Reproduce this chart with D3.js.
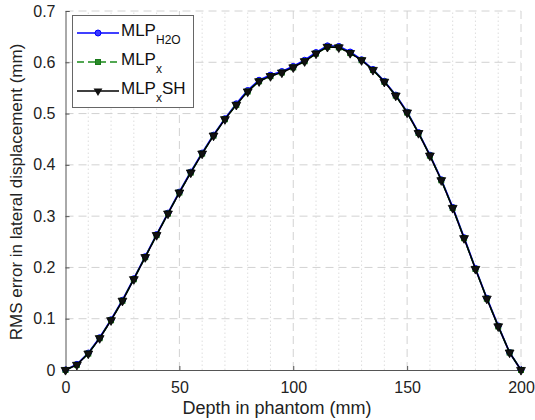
<!DOCTYPE html>
<html><head><meta charset="utf-8">
<script src="https://cdn.jsdelivr.net/npm/d3@7"></script>
<style>body{margin:0;background:#fff}svg{display:block}text{font-family:"Liberation Sans",Arial,sans-serif}</style>
</head><body><svg id="c" width="535" height="420"></svg>
<script>
const depth = [0,5,10,15,20,25,30,35,40,45,50,55,60,65,70,75,80,85,90,95,100,105,110,115,120,125,130,135,140,145,150,155,160,165,170,175,180,185,190,195,200];
const mlpH2O = [0,0.011,0.033,0.063,0.098,0.136,0.178,0.221,0.264,0.306,0.347,0.386,0.423,0.458,0.490,0.519,0.545,0.565,0.575,0.582,0.592,0.604,0.619,0.632,0.631,0.620,0.605,0.586,0.563,0.536,0.503,0.463,0.419,0.371,0.317,0.258,0.198,0.140,0.086,0.034,0];
const mlpX = [0,0.010,0.032,0.062,0.097,0.135,0.177,0.220,0.263,0.305,0.346,0.385,0.422,0.457,0.489,0.517,0.543,0.563,0.573,0.580,0.590,0.602,0.617,0.630,0.629,0.618,0.604,0.585,0.562,0.535,0.502,0.462,0.418,0.370,0.316,0.257,0.197,0.139,0.085,0.034,0];
const mlpXSH = [0,0.010,0.032,0.062,0.097,0.135,0.177,0.220,0.263,0.305,0.346,0.385,0.422,0.457,0.489,0.517,0.543,0.563,0.573,0.580,0.590,0.602,0.617,0.630,0.629,0.618,0.604,0.585,0.562,0.535,0.502,0.462,0.418,0.370,0.316,0.257,0.197,0.139,0.085,0.034,0];
const xTicks = [0,50,100,150,200];
const yTicks = [0,0.1,0.2,0.3,0.4,0.5,0.6,0.7];
const xMinor = [10,20,30,40,60,70,80,90,110,120,130,140,160,170,180,190];

const svg = d3.select("#c");
const x = d3.scaleLinear().domain([0,200]).range([65.5,521]);
const y = d3.scaleLinear().domain([0,0.7]).range([370,11]);

const g = svg.append("g");
g.selectAll(".mx").data(xMinor).enter().append("line")
 .attr("x1",d=>x(d)).attr("x2",d=>x(d)).attr("y1",y(0)).attr("y2",y(0.7))
 .attr("stroke","#d6d6d6").attr("stroke-width",0.8).attr("stroke-dasharray","1.5,2.5");
g.selectAll(".gx").data(xTicks.slice(1)).enter().append("line")
 .attr("x1",d=>x(d)).attr("x2",d=>x(d)).attr("y1",y(0)).attr("y2",y(0.7))
 .attr("stroke","#d2d2d2").attr("stroke-width",1).attr("stroke-dasharray","8,5");
g.selectAll(".gy").data(yTicks.slice(1)).enter().append("line")
 .attr("y1",d=>y(d)).attr("y2",d=>y(d)).attr("x1",x(0)).attr("x2",x(200))
 .attr("stroke","#d2d2d2").attr("stroke-width",1).attr("stroke-dasharray","8,5");

const xAxis = d3.axisBottom(x).tickValues(xTicks).tickSize(-4).tickPadding(8).tickFormat(d3.format("d"));
const yAxis = d3.axisLeft(y).tickValues(yTicks).tickSize(-4).tickPadding(10).tickFormat(d=>d===0?"0":d3.format(".1f")(d));
const ax = svg.append("g").attr("transform",`translate(0,${y(0)})`).call(xAxis);
const ay = svg.append("g").attr("transform",`translate(${x(0)},0)`).call(yAxis);
[ax,ay].forEach(a=>{
  a.select(".domain").attr("stroke","#555").attr("stroke-width",1);
  a.selectAll(".tick line").attr("stroke","#555");
  a.selectAll("text").attr("font-size",16).attr("fill","#222").attr("font-family","Liberation Sans, Arial, sans-serif");
});
ax.selectAll("text").attr("y",23).attr("dy",0);

svg.append("text").attr("x",277).attr("y",414).attr("text-anchor","middle").attr("font-size",18).attr("fill","#222").text("Depth in phantom (mm)");
svg.append("text").attr("transform","translate(22,192) rotate(-90)").attr("text-anchor","middle").attr("font-size",17).attr("fill","#222").text("RMS error in lateral displacement (mm)");

const line = d3.line().x((d,i)=>x(depth[i])).y(d=>y(d));
const tri = d3.symbol().type(d3.symbolTriangle).size(34);

svg.append("path").datum(mlpH2O).attr("d",line).attr("fill","none").attr("stroke","#0000ff").attr("stroke-width",1.8);
svg.selectAll(".c1").data(mlpH2O).enter().append("circle")
 .attr("cx",(d,i)=>x(depth[i])).attr("cy",d=>y(d)).attr("r",3).attr("fill","#3a3aff").attr("stroke","#0000ff").attr("stroke-width",1);
svg.append("path").datum(mlpX).attr("d",line).attr("fill","none").attr("stroke","#1a8a1a").attr("stroke-width",1.5).attr("stroke-dasharray","7,4");
svg.selectAll(".s2").data(mlpX).enter().append("rect")
 .attr("x",(d,i)=>x(depth[i])-2.5).attr("y",d=>y(d)-2.5).attr("width",5).attr("height",5).attr("fill","#2a8a2a").attr("stroke","#1a7a1a");
svg.append("path").datum(mlpXSH).attr("d",line).attr("fill","none").attr("stroke","#000").attr("stroke-width",1.5);
svg.selectAll(".t3").data(mlpXSH).enter().append("path")
 .attr("d",tri).attr("transform",(d,i)=>`translate(${x(depth[i])},${y(d)}) rotate(180)`)
 .attr("fill","#111").attr("stroke","#000").attr("stroke-width",0.8);

const lg = svg.append("g");
lg.append("rect").attr("x",72.5).attr("y",15.5).attr("width",121).attr("height",92).attr("fill","#fff").attr("stroke","#666").attr("stroke-width",1);
const rows = [{yy:33,col:"#0000ff",dash:null,m:"c",main:"MLP",sub:"H2O",after:""},
              {yy:62,col:"#1a8a1a",dash:"7,4",m:"s",main:"MLP",sub:"x",after:""},
              {yy:91,col:"#000",dash:null,m:"t",main:"MLP",sub:"x",after:"SH"}];
rows.forEach(r=>{
  const l = lg.append("line").attr("x1",77).attr("x2",119).attr("y1",r.yy).attr("y2",r.yy).attr("stroke",r.col).attr("stroke-width",1.5);
  if(r.dash) l.attr("stroke-dasharray",r.dash);
  if(r.m==="c") lg.append("circle").attr("cx",98).attr("cy",r.yy).attr("r",3).attr("fill","#3a3aff").attr("stroke","#0000ff");
  if(r.m==="s") lg.append("rect").attr("x",95.5).attr("y",r.yy-2.5).attr("width",5).attr("height",5).attr("fill","#2a8a2a").attr("stroke","#1a7a1a");
  if(r.m==="t") lg.append("path").attr("d",tri).attr("transform",`translate(98,${r.yy}) rotate(180)`).attr("fill","#111");
  const t = lg.append("text").attr("x",121).attr("y",r.yy+3).attr("font-size",17).attr("fill","#111");
  t.append("tspan").text(r.main);
  t.append("tspan").attr("font-size",12).attr("dy",8).text(r.sub);
  if(r.after) t.append("tspan").attr("dy",-8).text(r.after);
});
</script></body></html>
